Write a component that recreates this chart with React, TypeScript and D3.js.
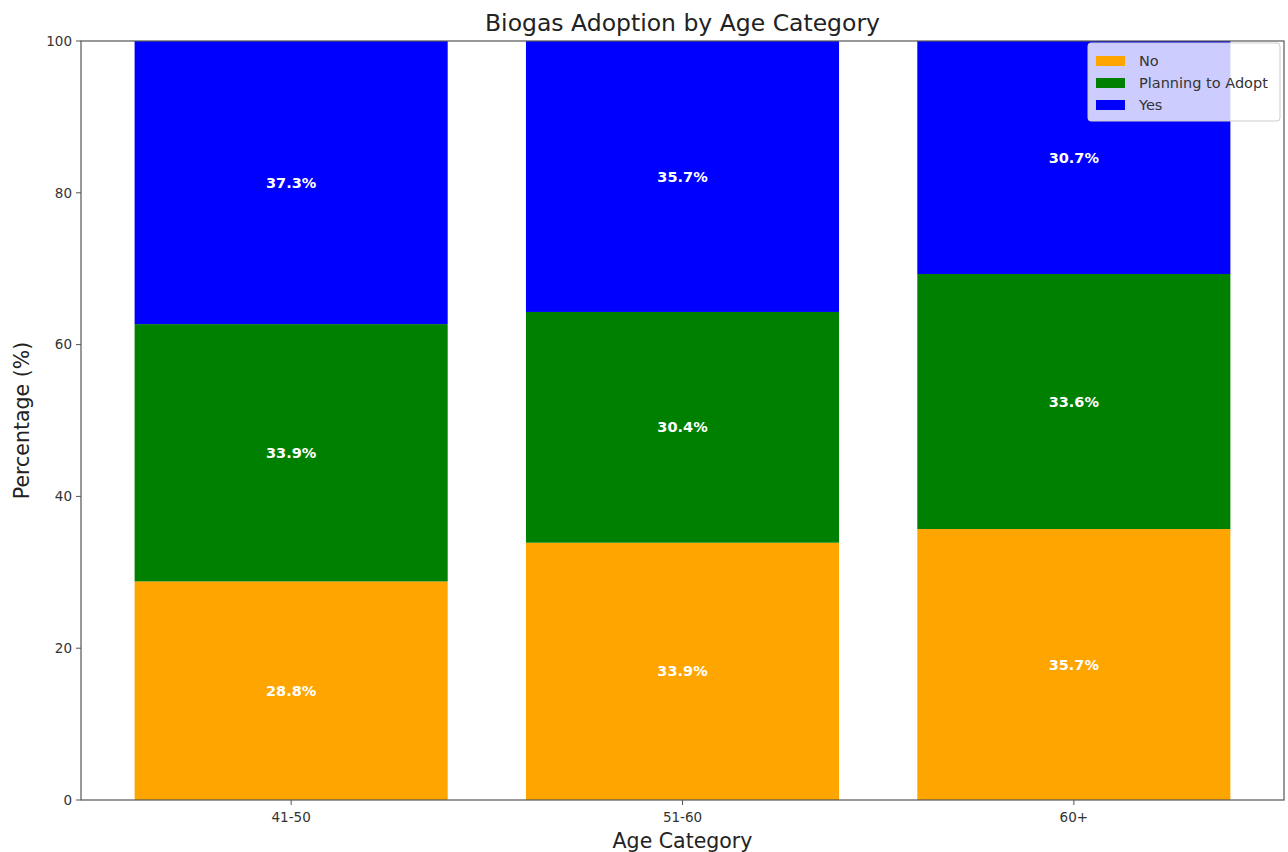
import React from "react";
import * as d3 from "d3";

const categories = ["41-50", "51-60", "60+"];
const seriesNames = ["No", "Planning to Adopt", "Yes"];
const seriesColors = ["orange", "green", "blue"];
const noValues = [28.8, 33.9, 35.7];
const planningValues = [33.9, 30.4, 33.6];
const yesValues = [37.3, 35.7, 30.7];
const yTicks = [0, 20, 40, 60, 80, 100];

export default function App() {
  const W = 1288, H = 852;
  const left = 81, right = 1284, top = 41, bottom = 800;
  const x = d3.scaleLinear().domain([-0.537, 2.537]).range([left, right]);
  const y = d3.scaleLinear().domain([0, 100]).range([bottom, top]);
  const bw = 0.8;
  const series = [noValues, planningValues, yesValues];
  const font = "DejaVu Sans, sans-serif";
  const segs: any[] = [];
  categories.forEach((c, i) => {
    let base = 0;
    series.forEach((vals, s) => {
      const v = vals[i];
      segs.push({ i, s, y0: base, y1: base + v, v });
      base += v;
    });
  });
  return (
    <svg width={W} height={H} style={{ position: "absolute", left: 0, top: 0 }} fontFamily={font}>
      <rect x={0} y={0} width={W} height={H} fill="white" />
      {segs.map((d, k) => (
        <rect key={k} x={x(d.i - bw / 2)} width={x(bw) - x(0)} y={y(d.y1)} height={y(d.y0) - y(d.y1)} fill={seriesColors[d.s]} />
      ))}
      {segs.map((d, k) => (
        <text key={"t" + k} x={x(d.i)} y={y((d.y0 + d.y1) / 2)} dy="0.35em" textAnchor="middle" fill="white" fontWeight="bold" fontSize={14.5}>
          {d.v.toFixed(1)}%
        </text>
      ))}
      <rect x={left} y={top} width={right - left} height={bottom - top} fill="none" stroke="#555" strokeWidth={1.2} />
      {yTicks.map((t) => (
        <g key={t}>
          <line x1={left - 5} x2={left} y1={y(t)} y2={y(t)} stroke="#555" />
          <text x={left - 9} y={y(t)} dy="0.35em" textAnchor="end" fontSize={13.5} fill="#333">{t}</text>
        </g>
      ))}
      {categories.map((c, i) => (
        <g key={c}>
          <line x1={x(i)} x2={x(i)} y1={bottom} y2={bottom + 5} stroke="#555" />
          <text x={x(i)} y={bottom + 22} textAnchor="middle" fontSize={13.5} fill="#333">{c}</text>
        </g>
      ))}
      <text x={(left + right) / 2} y={31} textAnchor="middle" fontSize={23.5} fill="#222">Biogas Adoption by Age Category</text>
      <text x={(left + right) / 2} y={848} textAnchor="middle" fontSize={20.5} fill="#222">Age Category</text>
      <text transform={`translate(29, ${(top + bottom) / 2}) rotate(-90)`} textAnchor="middle" fontSize={20.5} fill="#222">Percentage (%)</text>
      <g>
        <rect x={1088} y={43} width={192} height={78} rx={3} fill="white" fillOpacity={0.8} stroke="#ccc" />
        {seriesNames.map((n, s) => (
          <g key={n}>
            <rect x={1096} y={56 + s * 22} width={29} height={10} fill={seriesColors[s]} />
            <text x={1139} y={61 + s * 22} dy="0.35em" fontSize={14.5} fill="#333">{n}</text>
          </g>
        ))}
      </g>
    </svg>
  );
}
